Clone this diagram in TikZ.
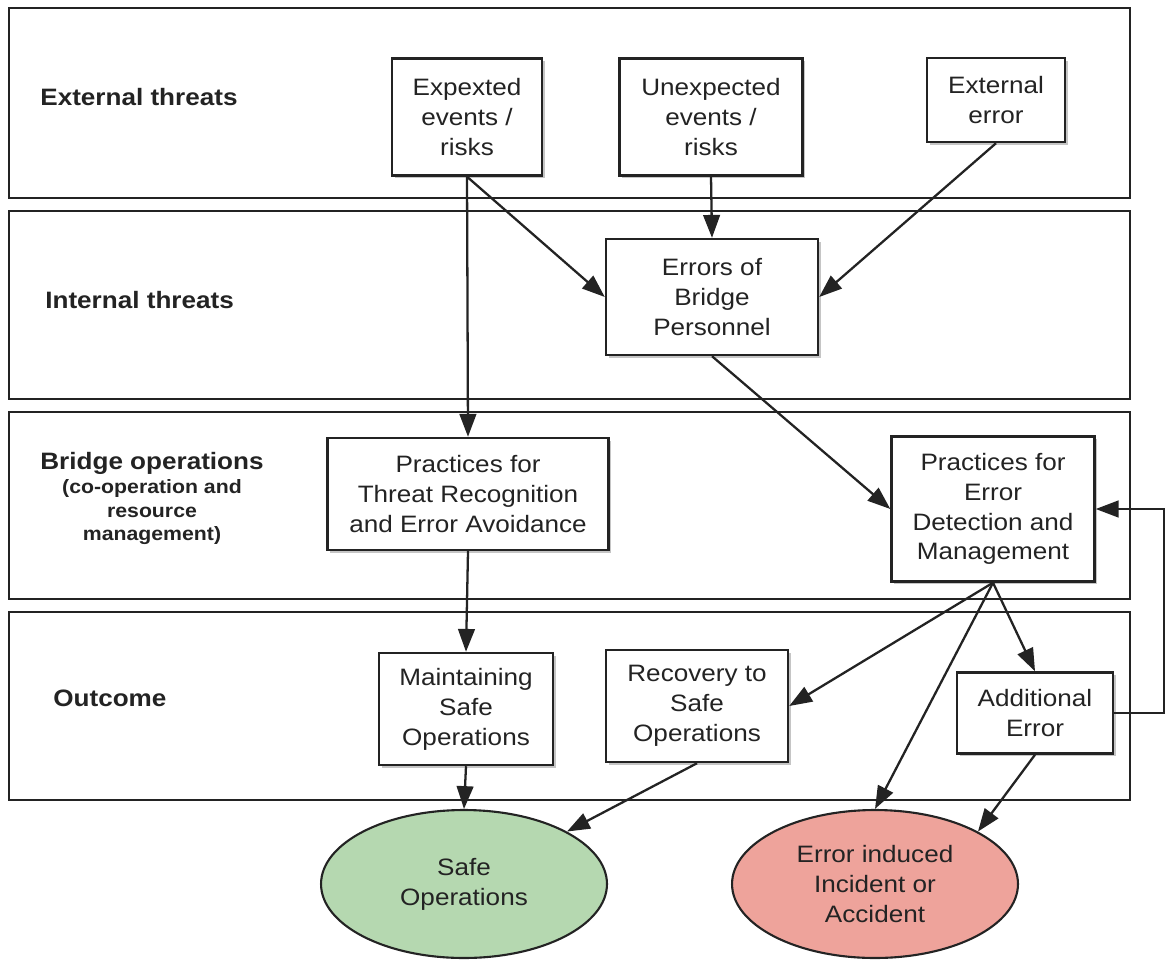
\documentclass[tikz,border=0pt]{standalone}
\usepackage{fontspec}
\setmainfont[FakeStretch=1.1]{Liberation Sans}
\usepackage{xcolor}
\usepackage{tikz}
\usetikzlibrary{arrows.meta,shapes.geometric,shadows}

\definecolor{safegreen}{RGB}{181,216,176}
\definecolor{incidred}{RGB}{238,163,155}
\definecolor{ink}{RGB}{35,35,35}

\tikzset{
	band/.style={draw=ink, line width=1.2pt},
	lane/.style={font=\fontsize{13.5}{16}\selectfont\bfseries, text=ink, inner sep=0pt},
	sublane/.style={font=\fontsize{11}{13.5}\selectfont\bfseries, text=ink, align=center, inner sep=0pt},
	box/.style={draw=ink, line width=1.4pt, fill=white, align=center, inner sep=0pt,
		font=\fontsize{13.5}{17}\selectfont, text=ink,
		drop shadow={shadow xshift=1.6pt, shadow yshift=-1.6pt, fill=black!45}},
	outcome/.style={ellipse, draw=ink, line width=1.2pt, align=center, inner sep=0pt,
		font=\fontsize{13.5}{17}\selectfont, text=ink,
		minimum width=5.72cm, minimum height=2.96cm},
	arr/.style={draw=ink, line width=1.3pt, -{Triangle[length=13pt,width=9.5pt]}}
}

\begin{document}
\begin{tikzpicture}[x=0.02cm, y=-0.02cm]
	\useasboundingbox (0,0) rectangle (1168,959);

	\draw[band] (9,8) rectangle (1130,198);
	\draw[band] (9,211) rectangle (1130,399);
	\draw[band] (9,412) rectangle (1130,599);
	\draw[band] (9,612) rectangle (1130,800);

	\node[lane, anchor=west] (extlab) at (40,97) {External threats};
	\node[lane, anchor=west] (intlab) at (45,300) {Internal threats};
	\node[lane] (bridgelab) at (152,463) {Bridge operations};
	\node[sublane, anchor=north] (bridgesub) at (152,479) {(co-operation and\\resource\\management)};
	\node[lane, anchor=west] (outlab) at (53,698) {Outcome};

	\node[box, minimum width=3cm, minimum height=2.34cm] (exp) at (467,117) {Expexted\\events /\\risks};
	\node[box, minimum width=3.66cm, minimum height=2.34cm] (unexp) at (711,117) {Unexpected\\events /\\risks};
	\node[box, minimum width=2.76cm, minimum height=1.68cm] (exterr) at (996,100) {External\\error};
	\node[box, minimum width=4.24cm, minimum height=2.32cm] (errbp) at (712,297) {Errors of\\Bridge\\Personnel};
	\node[box, minimum width=5.62cm, minimum height=2.24cm] (pta) at (468,494) {Practices for\\Threat Recognition\\and Error Avoidance};
	\node[box, minimum width=4.06cm, minimum height=2.9cm] (pedm) at (993,509) {Practices for\\Error\\Detection and\\Management};
	\node[box, minimum width=3.48cm, minimum height=2.24cm] (maint) at (466,709) {Maintaining\\Safe\\Operations};
	\node[box, minimum width=3.64cm, minimum height=2.24cm] (recov) at (697,706) {Recovery to\\Safe\\Operations};
	\node[box, minimum width=3.12cm, minimum height=1.62cm] (addl) at (1035,713) {Additional\\Error};

	\node[outcome, fill=safegreen] (safe) at (464,884) {Safe\\Operations};
	\node[outcome, fill=incidred] (incid) at (875,884) {Error induced\\Incident or\\Accident};

	\draw[arr] (exp.south) -- (pta.north);
	\draw[arr] (exp.south) -- (errbp.west);
	\draw[arr] (unexp.south) -- (errbp.north);
	\draw[arr] (exterr.south) -- (errbp.east);
	\draw[arr] (errbp.south) -- (pedm.west);
	\draw[arr] (pta.south) -- (maint.north);
	\draw[arr] (pedm.south) -- (recov.east);
	\draw[arr] (pedm.south) -- (incid.north);
	\draw[arr] (pedm.south) -- (addl.north);
	\draw[arr] (addl.east) -- ++(50,0) |- (pedm.east);
	\draw[arr] (maint.south) -- (safe.north);
	\draw[arr] (recov.south) -- (safe.27);
	\draw[arr] (addl.south) -- (incid.27);
\end{tikzpicture}
\end{document}
